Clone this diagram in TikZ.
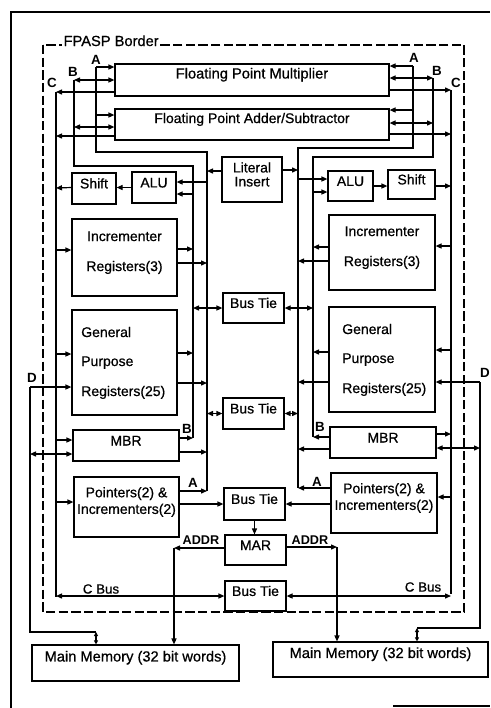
\documentclass[tikz,border=0pt]{standalone}
\usepackage{fontspec}
\setmainfont{Liberation Sans}
\newfontfamily\heavysans{Liberation Sans}[FakeBold=0.7]
\usetikzlibrary{arrows.meta,fit}
\begin{document}
\begin{tikzpicture}[x=0.75pt,y=-0.75pt,
  wire/.style={line width=0.9pt},
  box/.style={draw,line width=0.9pt,inner sep=0pt},
  arr/.style={wire,-{Triangle[length=4.5pt,width=3.8pt]}},
  darr/.style={wire,{Triangle[length=4.5pt,width=3.8pt]}-{Triangle[length=4.5pt,width=3.8pt]}},
  sdarr/.style={wire,{Triangle[length=3pt,width=3pt]}-{Triangle[length=3pt,width=3pt]}},
  txt/.style={font=\heavysans\fontsize{10.5}{12.5}\selectfont},
  gtxt/.style={txt,inner sep=0pt,anchor=base west},
  tag/.style={font=\bfseries\fontsize{10}{12}\selectfont,inner sep=0pt},
  buslbl/.style={font=\heavysans\fontsize{10}{12}\selectfont,inner sep=0pt},
  border/.style={line width=0.9pt,dash pattern=on 7pt off 2.5pt},
]
\useasboundingbox (0,0) rectangle (490,708);

% page frame
\draw[wire] (11,708) -- (11,12) -- (490,12);
\draw[wire] (393,706) -- (490,706);

% FPASP border
\draw[border] (43,45) rectangle (464,612);
\node[font=\heavysans\fontsize{11}{13}\selectfont,fill=white,inner sep=1pt,anchor=base west] (fpasp) at (62,46) {FPASP Border};

% boxes
\node[box,font=\heavysans\fontsize{11}{13}\selectfont,fit={(115,64) (389,96)}] (fpm) {Floating Point Multiplier};
\node[box,txt,fit={(115,109) (389,140)}] (fpa) {Floating Point Adder/Subtractor};
\node[box,txt,align=center,fit={(222,157) (282,202)}] (lit) {Literal\\[-2pt]Insert};
\node[box,txt,fit={(132,172) (176,203)}] (aluL) {ALU};
\node[box,txt,fit={(72,173) (116,204)}] (shL) {Shift};
\node[box,txt,fit={(328,171) (373,201)}] (aluR) {ALU};
\node[box,txt,fit={(388,170) (435,199)}] (shR) {Shift};
\node[box,txt,align=center,fit={(72,219) (177,296)}] (incL) {Incrementer\\[10pt]Registers(3)};
\node[box,txt,align=center,fit={(329,215) (435,290)}] (incR) {Incrementer\\[10pt]Registers(3)};
\node[box,txt,fit={(223,293) (284,323)}] (bt1) {Bus Tie};
\node[box,fit={(72,310) (177,415)}] (gprL) {};
\node[gtxt] (gprL1) at (81,337) {General};
\node[gtxt] (gprL2) at (81,366) {Purpose};
\node[gtxt] (gprL3) at (81,396) {Registers(25)};
\node[box,fit={(329,307) (435,412)}] (gprR) {};
\node[gtxt] (gprR1) at (342,334) {General};
\node[gtxt] (gprR2) at (342,363) {Purpose};
\node[gtxt] (gprR3) at (342,393) {Registers(25)};
\node[box,txt,fit={(223,398) (284,429)}] (bt2) {Bus Tie};
\node[box,txt,fit={(73,430) (179,461)}] (mbrL) {MBR};
\node[box,txt,fit={(330,427) (436,458)}] (mbrR) {MBR};
\node[box,txt,align=center,fit={(74,477) (179,537)}] (ptrL) {Pointers(2) \&\\Incrementers(2)};
\node[box,txt,align=center,fit={(331,473) (437,533)}] (ptrR) {Pointers(2) \&\\Incrementers(2)};
\node[box,txt,fit={(224,488) (285,520)}] (bt3) {Bus Tie};
\node[box,txt,fit={(225,535) (286,565)}] (mar) {MAR};
\node[box,txt,fit={(225,581) (286,611)}] (bt4) {Bus Tie};
\node[box,font=\heavysans\fontsize{11}{13}\selectfont,fit={(32,645) (239,681)}] (mmL) {Main Memory (32 bit words)};
\node[box,font=\heavysans\fontsize{11}{13}\selectfont,fit={(273,642) (488,677)}] (mmR) {Main Memory (32 bit words)};

% ---- bus lines ----
\draw[wire] (96,67) -- (96,152) -- (207,152) -- (207,491);
\draw[wire] (74,80) -- (74,166) -- (193,166) -- (193,438);
\draw[wire] (56,92) -- (56,597);
\draw[wire] (413,66) -- (413,148) -- (298,148) -- (298,488);
\draw[wire] (433,78) -- (433,157) -- (313,157) -- (313,437);
\draw[wire] (451,90) -- (451,594);
\draw[wire] (30,387) -- (30,632) -- (96,632);
\draw[wire] (480,382) -- (480,628) -- (417,628);

% labels
\node[tag] (lA1) at (96,60) {A};
\node[tag] (lB1) at (73,72) {B};
\node[tag] (lC1) at (52,83) {C};
\node[tag] (lA2) at (414,58) {A};
\node[tag] (lB2) at (437,71) {B};
\node[tag] (lC2) at (456,83) {C};
\node[tag] (lD1) at (32,378) {D};
\node[tag] (lD2) at (485,373) {D};
\node[tag] (lB3) at (187,429) {B};
\node[tag] (lB4) at (320,427) {B};
\node[tag] (lA3) at (193,483) {A};
\node[tag] (lA4) at (317,482) {A};
\node[tag,font=\bfseries\fontsize{9.5}{11}\selectfont] (ad1) at (201,540) {ADDR};
\node[tag,font=\bfseries\fontsize{9.5}{11}\selectfont] (ad2) at (310,540) {ADDR};
\node[buslbl] (cb1) at (101,589) {C Bus};
\node[buslbl] (cb2) at (423,587) {C Bus};

% ---- top units ----
\draw[arr] (96,67) -- (fpm.west |- 96,67);
\draw[arr] (96,115) -- (fpa.west |- 96,115);
\draw[darr] (74,80) -- (fpm.west |- 74,80);
\draw[darr] (74,127) -- (fpa.west |- 74,127);
\draw[arr] (fpm.west |- 56,92) -- (56,92);
\draw[arr] (fpa.west |- 56,136) -- (56,136);
\draw[arr] (413,66) -- (fpm.east |- 413,66);
\draw[arr] (413,110) -- (fpa.east |- 413,110);
\draw[darr] (fpm.east |- 433,78) -- (433,78);
\draw[darr] (fpa.east |- 433,123) -- (433,123);
\draw[arr] (fpm.east |- 451,90) -- (451,90);
\draw[arr] (fpa.east |- 451,134) -- (451,134);

% literal insert
\draw[arr] (lit.west |- 0,171) -- (207,171);
\draw[arr] (lit.east |- 0,170) -- (298,170);

% ALU / Shift
\draw[arr] (207,182) -- (aluL.east |- 0,182);
\draw[arr] (193,194) -- (aluL.east |- 0,194);
\draw[arr] (aluL.west) -- (shL.east |- aluL.west);
\draw[arr] (shL.west |- aluL.west) -- (56,188);
\draw[arr] (298,179) -- (aluR.west |- 0,179);
\draw[arr] (313,192) -- (aluR.west |- 0,192);
\draw[arr] (aluR.east) -- (shR.west |- aluR.east);
\draw[arr] (shR.east |- aluR.east) -- (451,186);

% incrementers
\draw[arr] (56,250) -- (incL.west |- 0,250);
\draw[arr] (incL.east |- 0,249) -- (193,249);
\draw[arr] (incL.east |- 0,263) -- (207,263);
\draw[arr] (451,246) -- (incR.east |- 0,246);
\draw[arr] (incR.west |- 0,247) -- (313,247);
\draw[arr] (incR.west |- 0,261) -- (298,261);

% bus ties
\draw[darr] (193,308) -- (bt1.west);
\draw[darr] (bt1.east) -- (313,308);
\draw[darr] (207,413.5) -- (bt2.west);
\draw[darr] (bt2.east) -- (298,413.5);

% GPR
\draw[arr] (56,354) -- (gprL.west |- 0,354);
\draw[arr] (30,387) -- (gprL.west |- 0,387);
\draw[arr] (gprL.east |- 0,353) -- (193,353);
\draw[arr] (gprL.east |- 0,383) -- (207,383);
\draw[arr] (451,350) -- (gprR.east |- 0,350);
\draw[arr] (480,382) -- (gprR.east |- 0,382);
\draw[arr] (gprR.west |- 0,352) -- (313,352);
\draw[arr] (gprR.west |- 0,382) -- (298,382);

% MBR
\draw[arr] (56,440) -- (mbrL.west |- 0,440);
\draw[darr] (30,454) -- (mbrL.west |- 0,454);
\draw[arr] (mbrL.east |- 0,438) -- (193,438);
\draw[arr] (mbrL.east |- 0,452) -- (207,452);
\draw[arr] (mbrR.east |- 0,434) -- (451,434);
\draw[darr] (mbrR.east |- 0,448) -- (480,448);
\draw[arr] (mbrR.west |- 0,437) -- (313,437);
\draw[arr] (mbrR.west |- 0,449) -- (298,449);

% pointers
\draw[arr] (56,502) -- (ptrL.west |- 0,502);
\draw[arr] (ptrL.east |- 0,491) -- (207,491);
\draw[arr] (ptrL.east |- bt3.west) -- (bt3.west);
\draw[arr] (451,497) -- (ptrR.east |- 0,497);
\draw[arr] (ptrR.west |- 0,488) -- (298,488);
\draw[arr] (ptrR.west |- bt3.east) -- (bt3.east);

% MAR and addresses
\draw[arr] (bt3.south) -- (bt3.south |- mar.north);
\draw[arr] (mar.west |- 0,548) -- (174,548);
\draw[arr] (174,548) -- (mmL.north -| 174,0);
\draw[arr] (mar.east |- 0,547) -- (337,547);
\draw[arr] (337,547) -- (mmR.north -| 337,0);

% C bus tie
\draw[darr] (56,596) -- (bt4.west);
\draw[darr] (bt4.east) -- (451,596);

% D to memories
\draw[sdarr] (96,632) -- (mmL.north -| 96,0);
\draw[sdarr] (417,628) -- (mmR.north -| 417,0);
\end{tikzpicture}
\end{document}
